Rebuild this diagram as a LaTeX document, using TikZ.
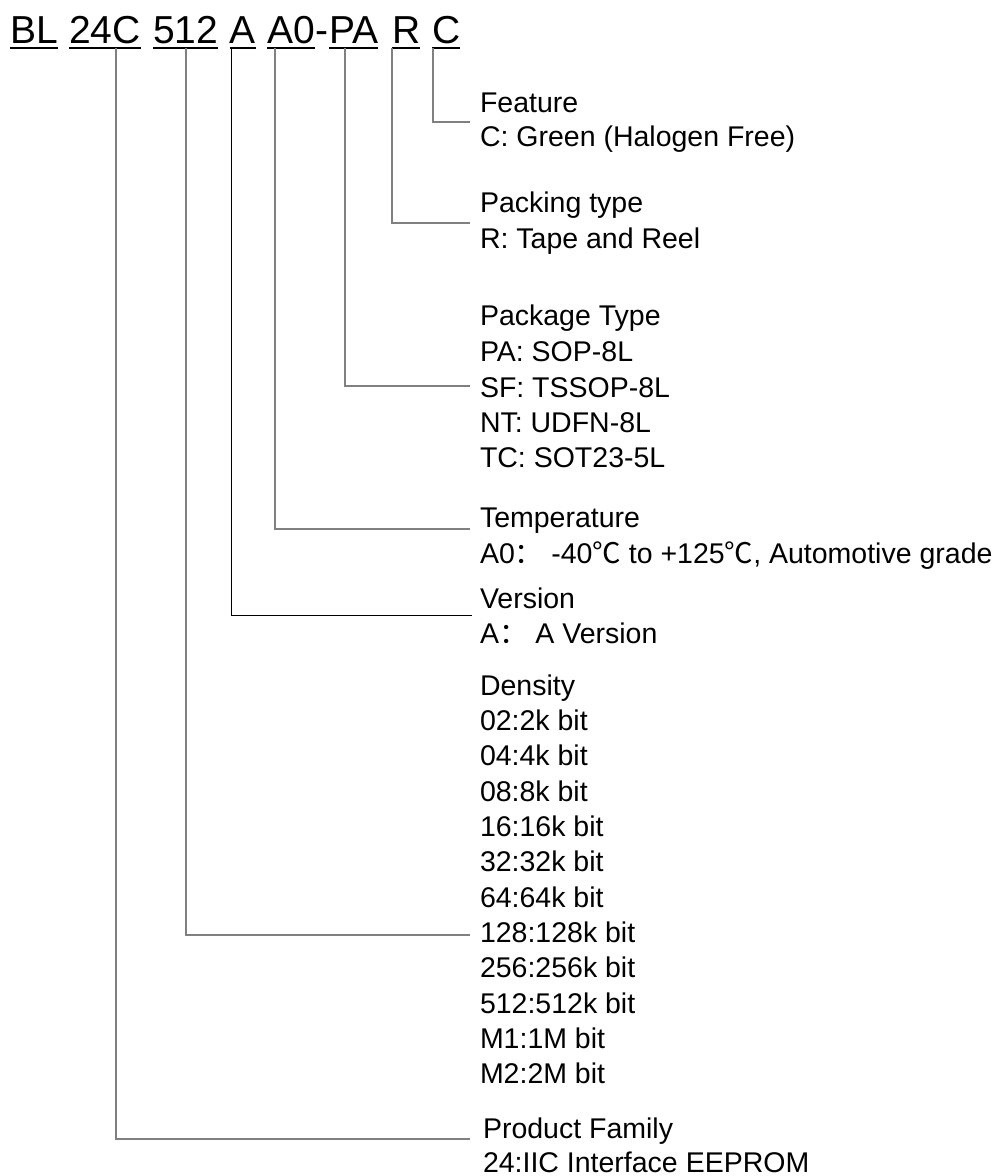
\documentclass[tikz,border=0pt]{standalone}
\usepackage{fontspec}
\setmainfont{Liberation Sans}
\newfontfamily\cjk{Noto Sans CJK SC}
\definecolor{linegray}{RGB}{128,128,128}
\begin{document}
\begin{tikzpicture}[x=1pt,y=-1pt,
  tok/.style={anchor=base west,inner sep=0pt,outer sep=0pt,text depth=4.7pt,font=\fontsize{39}{45}\selectfont},
  lbl/.style={anchor=base west,inner sep=0pt,outer sep=0pt,font=\fontsize{28.5}{35}\selectfont},
  uline/.style={line width=2.7pt},
  conn/.style={draw=linegray,line width=1.3pt},
  connk/.style={draw=black,line width=1pt}]
\useasboundingbox (0,0) rectangle (1008,1176);

% header tokens
\node[tok] (tBL) at (10,43.3) {BL};
\node[tok] (t24) at (69,43.3) {24C};
\node[tok] (t512) at (153,43.3) {512};
\node[tok] (tA) at (229.5,43.3) {A};
\node[tok] (tA0) at (267,43.3) {A0};
\node[tok] (tdash) at (315,43.3) {-};
\node[tok] (tPA) at (329,43.3) {PA};
\node[tok] (tR) at (392,43.3) {R};
\node[tok] (tC) at (432,43.3) {C};
\foreach \n in {tBL,t24,t512,tA,tA0,tPA,tR,tC}
  \draw[uline] (\n.south west) -- (\n.south east);

% labels
\node[lbl] (feat) at (480,112) {Feature};
\node[lbl] (featc) at (480,146) {C: Green (Halogen Free)};
\node[lbl] (pack) at (480,212) {Packing type};
\node[lbl] (packr) at (480,248) {R: Tape and Reel};
\node[lbl] (pkg) at (480,325) {Package Type};
\node[lbl] (pkg1) at (480,361) {PA: SOP-8L};
\node[lbl] (pkg2) at (480,397) {SF: TSSOP-8L};
\node[lbl] (pkg3) at (480,432) {NT: UDFN-8L};
\node[lbl] (pkg4) at (480,467) {TC: SOT23-5L};
\node[lbl] (temp) at (480,527) {Temperature};
\node[lbl] (temp1) at (480,563) {A0{\cjk ：} -40{\cjk ℃} to +125{\cjk ℃}, Automotive grade};
\node[lbl] (ver) at (480,608) {Version};
\node[lbl] (ver1) at (480,643) {A{\cjk ：} A Version};
\node[lbl] (dens) at (480,695) {Density};
\foreach \t [count=\i] in {02:2k bit,04:4k bit,08:8k bit,16:16k bit,32:32k bit,64:64k bit,128:128k bit,256:256k bit,512:512k bit,M1:1M bit,M2:2M bit}
  \node[lbl] (d\i) at (480,{695+35.35*\i}) {\t};
\node[lbl] (prod) at (483,1138) {Product Family};
\node[lbl] (prod1) at (483,1172) {24:IIC Interface EEPROM};

% connector ends
\coordinate (eC) at (470,122);
\coordinate (eR) at (470,223);
\coordinate (ePA) at (470,386);
\coordinate (eA0) at (470,529);
\coordinate (eA) at (472,615);
\coordinate (e512) at (470,935);
\coordinate (e24) at (470,1139);

\draw[conn] ([xshift=1pt]tC.south west) |- (eC);
\draw[conn] ([xshift=0pt]tR.south west) |- (eR);
\draw[conn] ([xshift=16pt]tPA.south west) |- (ePA);
\draw[conn] ([xshift=8pt]tA0.south west) |- (eA0);
\draw[connk] ([xshift=1.5pt]tA.south west) |- (eA);
\draw[conn] ([xshift=33pt]t512.south west) |- (e512);
\draw[conn] ([xshift=47pt]t24.south west) |- (e24);
\end{tikzpicture}
\end{document}
